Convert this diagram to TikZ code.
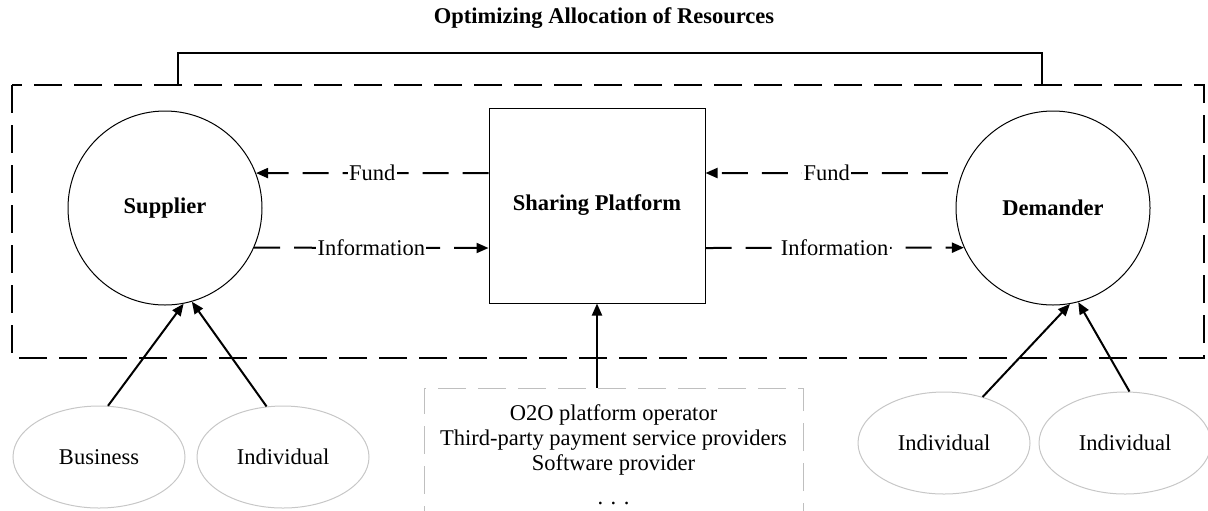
\documentclass[tikz,border=0pt]{standalone}
\usepackage{fontspec}
\setmainfont{Liberation Serif}
\usetikzlibrary{arrows.meta,shapes.geometric,calc}
\newcommand\dfont{\fontsize{11.25}{12.5}\selectfont}
\begin{document}
\begin{tikzpicture}[x=0.5pt,y=-0.5pt,font=\dfont,
  bigdash/.style={line width=1pt,dash pattern=on 14pt off 6pt},
  flow/.style={line width=1pt,dash pattern=on 13pt off 7pt,-{Triangle[length=6pt,width=5pt]}},
  solidarrow/.style={line width=1pt,-{Triangle[length=6pt,width=5pt]}},
  party/.style={circle,draw,line width=0.5pt,minimum size=97pt,inner sep=0pt,font=\dfont\bfseries},
  platbox/.style={rectangle,draw,line width=0.5pt,minimum width=108pt,minimum height=97.5pt,inner sep=0pt,font=\dfont\bfseries},
  src/.style={ellipse,draw=black!22,line width=0.5pt,minimum width=86pt,minimum height=51pt,inner sep=0pt},
  provbox/.style={rectangle,draw=black!25,line width=0.5pt,dash pattern=on 14pt off 6pt,minimum width=189.5pt,minimum height=62pt,inner sep=0pt},
  lbl/.style={fill=white,inner sep=0.6pt}]
\useasboundingbox (0,0) rectangle (1208,510);
\clip (0,0) rectangle (1208,510);

% title and frame
\node[font=\dfont\bfseries] (title) at (604,18) {Optimizing Allocation of Resources};
\draw[bigdash] (12,85) rectangle (1204,358);
\draw[line width=1pt] (178,85) -- (178,53) -- (1042,53) -- (1042,85);

% main nodes
\node[party] (sup) at (165,208) {Supplier};
\node[party] (dem) at (1053,208) {Demander};
\node[platbox] (plat) at (597,205.5) {Sharing Platform};

% helper levels
\coordinate (yF) at (0,173);
\coordinate (yI) at (0,248);

% flows
\draw[flow] (plat.west |- yF) -- node[lbl]{Fund} (sup.21);
\draw[flow] (sup.-24) -- node[lbl]{Information} (plat.west |- yI);
\draw[flow] ([xshift=-7pt]dem.159) -- node[lbl]{Fund} (plat.east |- yF);
\draw[flow] (plat.east |- yI) -- node[lbl]{Information} (dem.204);

% sources
\node[src] (bus) at (99,457) {Business};
\node[src] (ind1) at (283,457) {Individual};
\node[src] (ind2) at (944,443) {Individual};
\node[src] (ind3) at (1125,443) {Individual};

\draw[solidarrow] (bus.80) -- (sup.-79);
\draw[solidarrow] (ind1.108) -- (sup.-74);
\draw[solidarrow] (ind2.50) -- (dem.-80);
\draw[solidarrow] (ind3.85) -- (dem.-75);

% providers
\node[provbox] (prov) at (613.5,450) {};
\node[align=center] (provtext) at (613.5,455) {O2O platform operator\\Third-party payment service providers\\Software provider\\[4.5pt]. . .};
\draw[solidarrow] (prov.north -| plat.south) -- (plat.south);
\end{tikzpicture}
\end{document}
